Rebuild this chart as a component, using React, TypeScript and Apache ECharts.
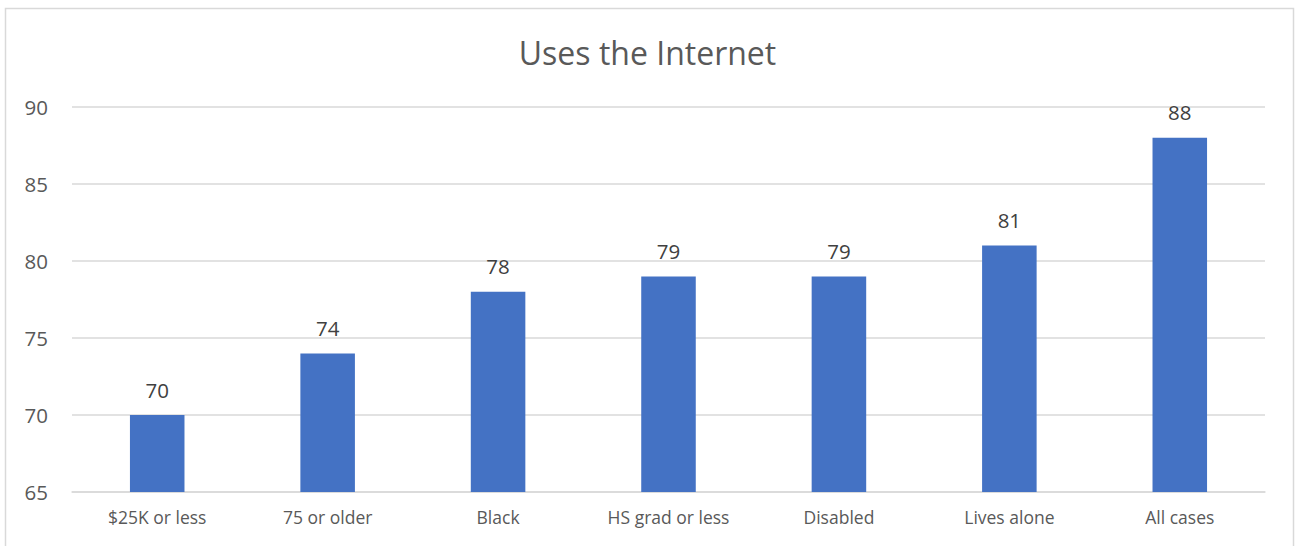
import React, { useEffect, useRef } from "react";
import * as echarts from "echarts";

const categories = ["$25K or less", "75 or older", "Black", "HS grad or less", "Disabled", "Lives alone", "All cases"];
const values = [70, 74, 78, 79, 79, 81, 88];
const yTicks = { min: 65, max: 90, interval: 5 };
const title = "Uses the Internet";

export default function App() {
  const ref = useRef<HTMLDivElement>(null);
  useEffect(() => {
    if (!ref.current) return;
    const chart = echarts.init(ref.current, null, { renderer: "svg" });
    const font = "'Open Sans', 'Noto Sans', sans-serif";
    chart.setOption({
      animation: false,
      backgroundColor: "#ffffff",
      title: {
        text: title,
        left: "center",
        top: 31,
        textStyle: { fontFamily: font, fontSize: 32, fontWeight: "normal", color: "#595959" },
      },
      graphic: [
        {
          type: "rect",
          shape: { x: 5.5, y: 8.5, width: 1288, height: 600 },
          style: { fill: "none", stroke: "#d9d9d9", lineWidth: 1.5 },
          silent: true,
        },
      ],
      grid: { left: 72, right: 30, top: 107, bottom: 54 },
      xAxis: {
        type: "category",
        data: categories,
        axisTick: { show: false },
        axisLine: { lineStyle: { color: "#d9d9d9", width: 1.5 } },
        axisLabel: { fontFamily: font, fontSize: 17.5, color: "#595959", margin: 16 },
      },
      yAxis: {
        type: "value",
        min: yTicks.min,
        max: yTicks.max,
        interval: yTicks.interval,
        axisLine: { show: false },
        axisTick: { show: false },
        splitLine: { lineStyle: { color: "#d9d9d9", width: 1.5 } },
        axisLabel: { fontFamily: font, fontSize: 20.5, color: "#595959", margin: 24 },
      },
      series: [
        {
          type: "bar",
          data: values,
          barWidth: "32%",
          itemStyle: { color: "#4472C4" },
          label: {
            show: true,
            position: "top",
            distance: 15,
            fontFamily: font,
            fontSize: 20.5,
            color: "#404040",
          },
        },
      ],
    });
    return () => chart.dispose();
  }, []);
  return (
    <div
      ref={ref}
      style={{ position: "fixed", left: 0, top: 0, width: 1295, height: 546 }}
    />
  );
}
